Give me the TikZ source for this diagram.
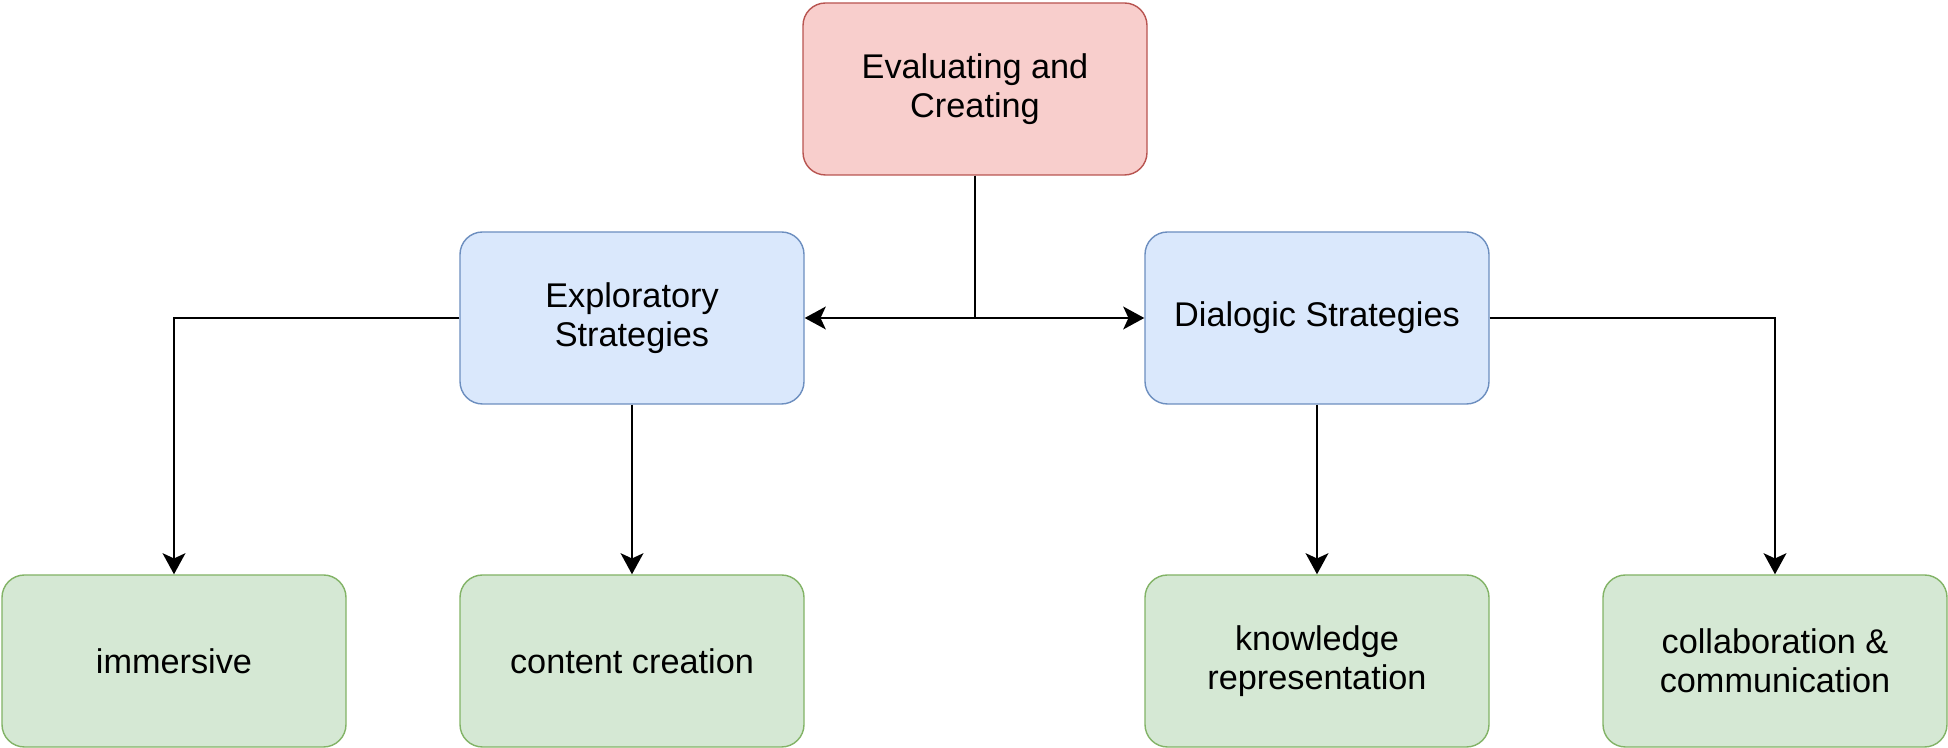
\documentclass[tikz,border=0pt]{standalone}
\usepackage{fontspec}
\setmainfont{Liberation Sans}
\usepackage{tikz}
\usetikzlibrary{arrows.meta,positioning}
\definecolor{redfill}{HTML}{F8CECC}
\definecolor{reddraw}{HTML}{B85450}
\definecolor{bluefill}{HTML}{DAE8FC}
\definecolor{bluedraw}{HTML}{6C8EBF}
\definecolor{greenfill}{HTML}{D5E8D4}
\definecolor{greendraw}{HTML}{82B366}
\tikzset{
    box/.style={
        rounded corners=0.45cm,
        line width=0.8pt,
        minimum width=6.88cm,
        minimum height=3.44cm,
        align=center,
        font=\fontsize{19.5}{22}\selectfont
    },
    redbox/.style={box, draw=reddraw, fill=redfill},
    bluebox/.style={box, draw=bluedraw, fill=bluefill},
    greenbox/.style={box, draw=greendraw, fill=greenfill},
    % connector arrow
    linkarrow/.style={
        line width=1.1pt,
        black,
        ->,
        >={Stealth[length=12pt, width=13pt, inset=3pt]}
    }
}
\begin{document}
\begin{tikzpicture}
	\useasboundingbox (0,0) rectangle (38.96,14.96);
	
	\node [redbox] (eval) at (19.5,13.18) {Evaluating and\\Creating};
	
	\node [bluebox] (expl) at (12.64,8.6) {Exploratory\\Strategies};
	\node [bluebox] (dial) at (26.34,8.6) {Dialogic Strategies};
	
	\node [greenbox] (imm) at (3.48,1.74) {immersive};
	\node [greenbox] (cont) at (12.64,1.74) {content creation};
	\node [greenbox] (know) at (26.34,1.74) {knowledge\\representation};
	\node [greenbox] (coll) at (35.5,1.74) {collaboration \&\\communication};
	
	\draw[linkarrow] (eval.south) |- (expl.east);
	\draw[linkarrow] (eval.south) |- (dial.west);
	
	\draw[linkarrow] (expl.west) -| (imm.north);
	\draw[linkarrow] (expl.south) -- (cont.north);
	
	\draw[linkarrow] (dial.south) -- (know.north);
	\draw[linkarrow] (dial.east) -| (coll.north);
\end{tikzpicture}
\end{document}
